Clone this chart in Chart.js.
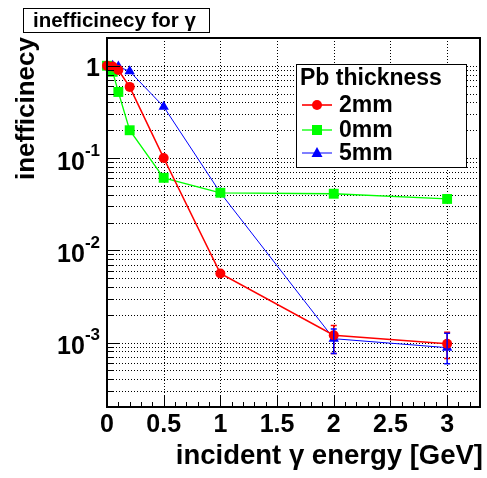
<!DOCTYPE html>
<html>
<head>
<meta charset="utf-8">
<script src="https://cdn.jsdelivr.net/npm/chart.js@4.4.1/dist/chart.umd.min.js"></script>
<style>
  html, body { margin: 0; padding: 0; background: #fff; }
  #wrap { width: 487px; height: 478px; }
</style>
</head>
<body>
<div id="wrap"><canvas id="c" width="487" height="478"></canvas></div>
<script>
(function() {
    'use strict';

    // incident photon energy [GeV]
    const energies = [0, 0.05, 0.1, 0.2, 0.5, 1, 2, 3];

    const seriesNames = ['2mm', '0mm', '5mm'];
    const ineff2mm = [1.0, 0.98, 0.9, 0.59, 0.1, 0.0056, 0.0012, 0.00097];
    const ineff0mm = [1.0, 0.86, 0.52, 0.2, 0.061, 0.042, 0.041, 0.036];
    const ineff5mm = [1.0, 1.0, 0.98, 0.87, 0.36, 0.042, 0.0011, 0.00088];

    // error bar limits (null = too small to see)
    const lo2mm = [null, null, null, null, null, null, 0.00076, 0.00067];
    const hi2mm = [null, null, null, null, null, null, 0.00153, 0.00129];
    const lo5mm = [null, null, null, null, null, null, 0.00076, 0.00059];
    const hi5mm = [null, null, null, null, null, null, 0.0014, 0.00126];

    const xTicks = [0, 0.5, 1, 1.5, 2, 2.5, 3];
    const xTickLabels = ['0', '0.5', '1', '1.5', '2', '2.5', '3'];
    const yDecades = [1, 0.1, 0.01, 0.001];
    const yDecadeExp = ['', '-1', '-2', '-3'];

    const X_MIN = 0, X_MAX = 3.29;
    const Y_MIN = 2e-4, Y_MAX = 2;

    const FONT = '"Liberation Sans", Arial, Helvetica, sans-serif';

    function logMinorValues() {
        const out = [];
        for (let e = -4; e <= 0; e++) {
            for (let m = 1; m <= 9; m++) {
                const v = m * Math.pow(10, e);
                if (v >= Y_MIN * 0.999 && v <= Y_MAX * 1.001) out.push(v);
            }
        }
        return out;
    }

    function xMinorValues() {
        const out = [];
        for (let i = 0; i <= 33; i++) out.push(i / 10);
        return out;
    }

    function marker(ctx, style, x, y, color) {
        ctx.save();
        ctx.fillStyle = color;
        ctx.beginPath();
        if (style === 'circle') {
            ctx.arc(x, y, 5, 0, Math.PI * 2);
        } else if (style === 'rect') {
            ctx.rect(x - 5, y - 5, 10, 10);
        } else {
            ctx.moveTo(x, y - 6);
            ctx.lineTo(x + 5.5, y + 4);
            ctx.lineTo(x - 5.5, y + 4);
            ctx.closePath();
        }
        ctx.fill();
        ctx.restore();
    }

    const gridPlugin = {
        id: 'rootGrid',
        beforeDatasetsDraw: function(chart) {
            const ctx = chart.ctx;
            const a = chart.chartArea;
            const xs = chart.scales.x, ys = chart.scales.y;
            ctx.save();
            ctx.strokeStyle = '#000';
            ctx.lineWidth = 1;
            ctx.setLineDash([1, 2]);
            xTicks.forEach(function(v) {
                const px = Math.round(xs.getPixelForValue(v)) + 0.5;
                ctx.beginPath();
                ctx.moveTo(px, a.top);
                ctx.lineTo(px, a.bottom);
                ctx.stroke();
            });
            logMinorValues().forEach(function(v) {
                const py = Math.round(ys.getPixelForValue(v)) + 0.5;
                ctx.beginPath();
                ctx.moveTo(a.left, py);
                ctx.lineTo(a.right, py);
                ctx.stroke();
            });
            ctx.restore();
        }
    };

    const errorBarPlugin = {
        id: 'errBars',
        afterDatasetsDraw: function(chart) {
            const ctx = chart.ctx;
            const xs = chart.scales.x, ys = chart.scales.y;
            chart.data.datasets.forEach(function(ds) {
                if (!ds.errLo) return;
                ctx.save();
                ctx.strokeStyle = ds.borderColor;
                ctx.lineWidth = 1.5;
                ds.errLo.forEach(function(lo, i) {
                    const hi = ds.errHi[i];
                    if (lo == null || hi == null) return;
                    const px = xs.getPixelForValue(energies[i]);
                    const p1 = ys.getPixelForValue(lo);
                    const p2 = ys.getPixelForValue(hi);
                    ctx.beginPath();
                    ctx.moveTo(px, p1); ctx.lineTo(px, p2);
                    ctx.moveTo(px - 3, p1); ctx.lineTo(px + 3, p1);
                    ctx.moveTo(px - 3, p2); ctx.lineTo(px + 3, p2);
                    ctx.stroke();
                });
                ctx.restore();
            });
        }
    };

    const framePlugin = {
        id: 'rootFrame',
        afterDraw: function(chart) {
            const ctx = chart.ctx;
            const a = chart.chartArea;
            const xs = chart.scales.x, ys = chart.scales.y;
            ctx.save();

            // frame
            ctx.strokeStyle = '#000';
            ctx.lineWidth = 2;
            ctx.strokeRect(a.left, a.top, a.right - a.left, a.bottom - a.top);

            // ticks
            ctx.lineWidth = 1;
            ctx.beginPath();
            logMinorValues().forEach(function(v) {
                const py = Math.round(ys.getPixelForValue(v)) + 0.5;
                const major = Math.abs(Math.log10(v) - Math.round(Math.log10(v))) < 1e-9;
                ctx.moveTo(a.left, py);
                ctx.lineTo(a.left + (major ? 13 : 7), py);
            });
            xMinorValues().forEach(function(v, i) {
                if (v > X_MAX) return;
                const px = Math.round(xs.getPixelForValue(v)) + 0.5;
                const major = i % 5 === 0;
                ctx.moveTo(px, a.bottom);
                ctx.lineTo(px, a.bottom - (major ? 11 : 5));
            });
            ctx.stroke();

            // x tick labels
            ctx.fillStyle = '#000';
            ctx.font = 'bold 25px ' + FONT;
            ctx.textAlign = 'center';
            ctx.textBaseline = 'middle';
            xTicks.forEach(function(v, i) {
                ctx.fillText(xTickLabels[i], xs.getPixelForValue(v), 425);
            });

            // y tick labels
            yDecades.forEach(function(v, i) {
                const py = ys.getPixelForValue(v);
                const exp = yDecadeExp[i];
                ctx.textBaseline = 'middle';
                if (!exp) {
                    ctx.font = 'bold 25px ' + FONT;
                    ctx.textAlign = 'right';
                    ctx.fillText('1', 100, py + 3);
                } else {
                    ctx.font = 'bold 17px ' + FONT;
                    ctx.textAlign = 'right';
                    const ew = ctx.measureText(exp).width;
                    ctx.fillText(exp, 100, py - 7);
                    ctx.font = 'bold 25px ' + FONT;
                    ctx.fillText('10', 100 - ew, py + 5);
                }
            });

            // axis titles
            ctx.font = 'bold 27.5px ' + FONT;
            ctx.textAlign = 'right';
            ctx.textBaseline = 'middle';
            ctx.fillText('incident \u03b3 energy [GeV]', 483, 456);

            ctx.save();
            ctx.font = 'bold 26px ' + FONT;
            ctx.translate(27, 37);
            ctx.rotate(-Math.PI / 2);
            ctx.textAlign = 'right';
            ctx.fillText('inefficinecy', 0, 0);
            ctx.restore();

            // title box
            ctx.fillStyle = '#fff';
            ctx.fillRect(23, 8, 186, 24);
            ctx.strokeStyle = '#000';
            ctx.lineWidth = 1;
            ctx.strokeRect(23.5, 8.5, 186, 24);
            ctx.fillStyle = '#000';
            ctx.font = 'bold 20.5px ' + FONT;
            ctx.textAlign = 'left';
            ctx.textBaseline = 'middle';
            ctx.fillText('inefficinecy for \u03b3', 33, 21);

            // legend box
            ctx.fillStyle = '#fff';
            ctx.fillRect(296, 64, 170, 103);
            ctx.strokeStyle = '#000';
            ctx.strokeRect(296.5, 64.5, 170, 103);
            ctx.fillStyle = '#000';
            ctx.font = 'bold 23px ' + FONT;
            ctx.fillText('Pb thickness', 300, 79);
            const ys0 = [105, 130, 153];
            chart.data.datasets.forEach(function(ds, i) {
                const y = ys0[i];
                ctx.strokeStyle = ds.borderColor;
                ctx.lineWidth = ds.borderWidth;
                ctx.beginPath();
                ctx.moveTo(302, y); ctx.lineTo(332, y);
                ctx.stroke();
                marker(ctx, ds.pointStyle, 317, y, ds.borderColor);
                ctx.fillStyle = '#000';
                ctx.font = 'bold 23px ' + FONT;
                ctx.fillText(seriesNames[i], 339, y + 1);
            });

            ctx.restore();
        }
    };

    function pts(vals) {
        return vals.map(function(v, i) { return { x: energies[i], y: v }; });
    }

    const colors = ['#ff0000', '#00ff00', '#0000ff'];

    new Chart(document.getElementById('c'), {
        type: 'scatter',
        data: {
            datasets: [
                {
                    label: seriesNames[0], data: pts(ineff2mm), showLine: true,
                    borderColor: colors[0], backgroundColor: colors[0], borderWidth: 1.6,
                    pointStyle: 'circle', pointRadius: 5, pointBorderWidth: 0,
                    errLo: lo2mm, errHi: hi2mm, clip: false
                },
                {
                    label: seriesNames[1], data: pts(ineff0mm), showLine: true,
                    borderColor: colors[1], backgroundColor: colors[1], borderWidth: 1.3,
                    pointStyle: 'rect', pointRadius: 7, pointBorderWidth: 0, clip: false
                },
                {
                    label: seriesNames[2], data: pts(ineff5mm), showLine: true,
                    borderColor: colors[2], backgroundColor: colors[2], borderWidth: 1,
                    pointStyle: 'triangle', pointRadius: 6, pointBorderWidth: 0,
                    errLo: lo5mm, errHi: hi5mm, clip: false
                }
            ]
        },
        options: {
            responsive: false,
            animation: false,
            events: [],
            layout: { padding: { left: 107, top: 38, right: 2, bottom: 71 } },
            plugins: { legend: { display: false }, tooltip: { enabled: false } },
            scales: {
                x: { type: 'linear', min: X_MIN, max: X_MAX, display: false },
                y: { type: 'logarithmic', min: Y_MIN, max: Y_MAX, display: false }
            }
        },
        plugins: [gridPlugin, errorBarPlugin, framePlugin]
    });
})();
</script>
</body>
</html>
